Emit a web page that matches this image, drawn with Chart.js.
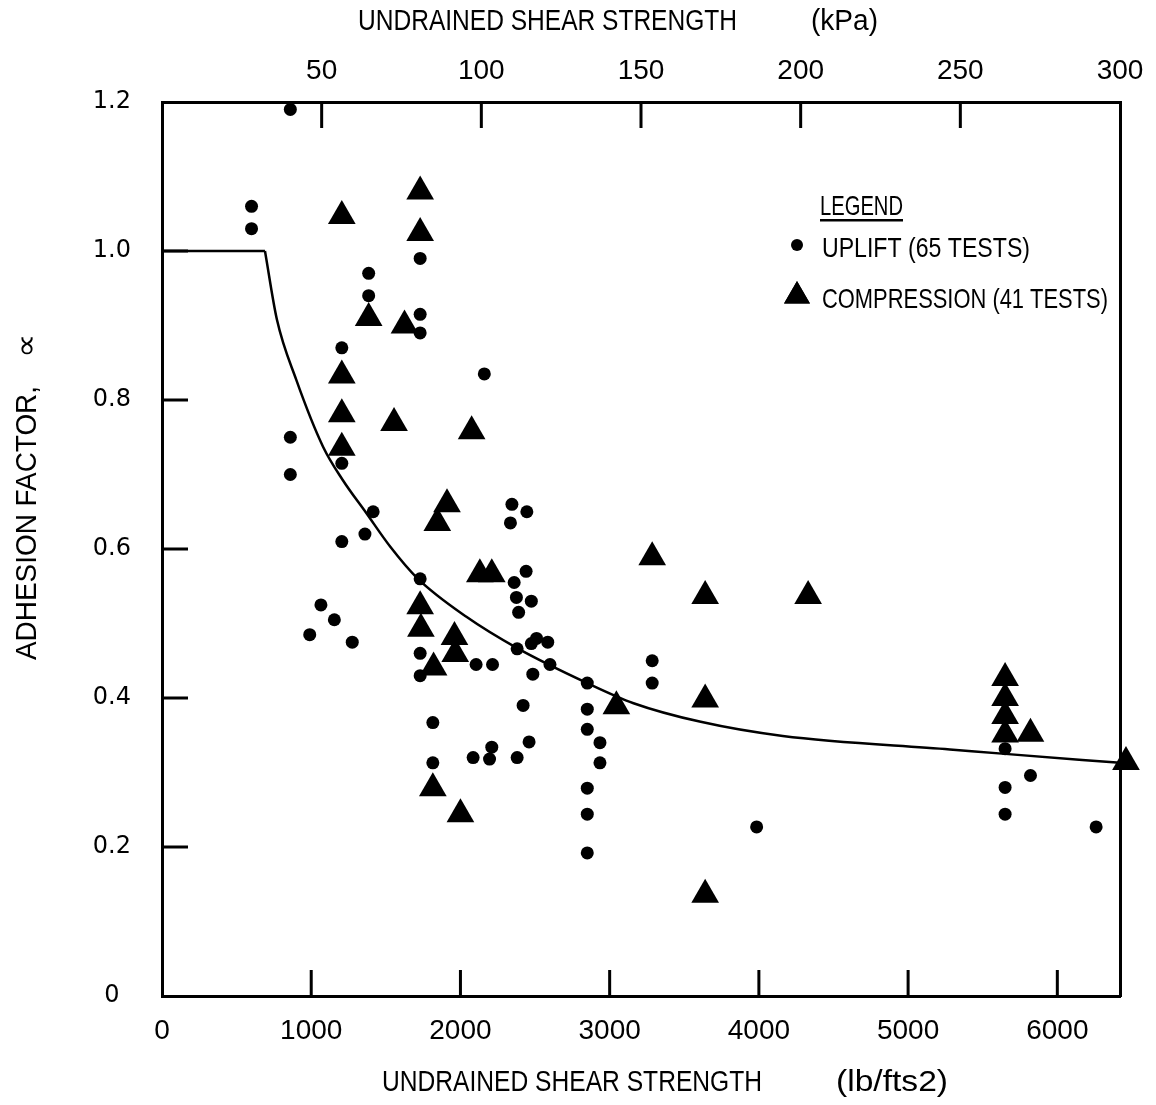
<!DOCTYPE html>
<html>
<head>
<meta charset="utf-8">
<script src="https://cdn.jsdelivr.net/npm/chart.js@4.4.1/dist/chart.umd.min.js"></script>
<style>
  html, body { margin: 0; padding: 0; background: #fff; }
  canvas { display: block; }
</style>
</head>
<body>
<canvas id="adhesionChart" width="1156" height="1105"></canvas>
<script>
// Undrained shear strength (lb/ft2) vs adhesion factor
const upliftSu = [860, 600, 600, 1730, 1385, 1385, 1730, 1730, 1205, 2160,
    860, 860, 1205, 1415, 1360, 1205, 2345, 2445, 2335, 2440,
    2360, 2375, 2475, 2390, 1730, 1065, 1155, 990, 1275, 1730,
    1730, 2105, 2215, 2510, 2475, 2585, 2380, 2600, 2485, 2850,
    3285, 3285, 2420, 2850, 2850, 2935, 2935, 1815, 1815, 2085,
    2210, 2195, 2380, 2460, 2850, 2850, 2850, 3985, 5650, 5820,
    5650, 5650, 6260];
const upliftAlpha = [1.19, 1.06, 1.03, 0.99, 0.97, 0.94, 0.915, 0.89, 0.87, 0.835,
    0.75, 0.70, 0.715, 0.65, 0.62, 0.61, 0.66, 0.65, 0.635, 0.57,
    0.555, 0.535, 0.53, 0.515, 0.56, 0.525, 0.505, 0.485, 0.475, 0.46,
    0.43, 0.445, 0.445, 0.48, 0.473, 0.475, 0.466, 0.445, 0.432, 0.42,
    0.45, 0.42, 0.39, 0.385, 0.358, 0.34, 0.313, 0.367, 0.313, 0.32,
    0.334, 0.318, 0.32, 0.341, 0.279, 0.244, 0.192, 0.227, 0.332, 0.296,
    0.28, 0.244, 0.227];

const compSu = [1205, 1730, 1730, 1385, 1625, 1205, 1205, 1555, 2075, 1205,
    1910, 1845, 2130, 2210, 3285, 1730, 1735, 1960, 1965, 1820,
    3045, 1815, 2000, 3640, 4330, 3640, 3640, 5650, 5650, 5650,
    5650, 5820, 6460];
const compAlpha = [1.047, 1.08, 1.024, 0.91, 0.90, 0.833, 0.781, 0.769, 0.758, 0.736,
    0.66, 0.635, 0.566, 0.566, 0.589, 0.523, 0.493, 0.482, 0.459, 0.441,
    0.389, 0.279, 0.244, 0.537, 0.537, 0.398, 0.136, 0.427, 0.40, 0.376,
    0.351, 0.352, 0.314];

// design curve: flat part, then the decaying branch
const plateauSu = [0, 690];
const plateauAlpha = [1.0, 1.0];
const curveSu = [690, 770, 900, 1080, 1210, 1370, 1530, 1710, 2040, 2380,
    2850, 3160, 3610, 4160, 5280, 5650, 6420];
const curveAlpha = [1.0, 0.908, 0.827, 0.737, 0.693, 0.648, 0.603, 0.561, 0.509, 0.467,
    0.420, 0.393, 0.368, 0.349, 0.331, 0.325, 0.313];

// tick values
const psfTicks = [0, 1000, 2000, 3000, 4000, 5000, 6000];
const kpaTicks = [0, 50, 100, 150, 200, 250, 300];
const alphaTicks = [0, 0.2, 0.4, 0.6, 0.8, 1.0, 1.2];

const xMaxPsf = 6420;
const kpaMax = 300;

function pairs(xs, ys) {
    return xs.map((x, i) => ({ x: x, y: ys[i] }));
}

const LABEL_FONT = '"Liberation Sans", Arial, sans-serif';
const TICK_LEN = 26;

// draw text squeezed/stretched to a given width (the original uses a narrow CAD font)
function fitText(ctx, text, x, y, w, size) {
    ctx.font = size + 'px ' + LABEL_FONT;
    const m = ctx.measureText(text).width;
    ctx.save();
    ctx.translate(x, y);
    ctx.scale(w / m, 1);
    ctx.textAlign = 'left';
    ctx.textBaseline = 'middle';
    ctx.fillText(text, 0, 0);
    ctx.restore();
}

function noPadding(s) {
    s.paddingLeft = 0;
    s.paddingRight = 0;
    s.paddingTop = 0;
    s.paddingBottom = 0;
}

const inwardTicks = {
    id: 'inwardTicks',
    afterDraw(chart) {
        const { ctx, chartArea: a, scales } = chart;
        ctx.save();
        ctx.strokeStyle = '#000';
        ctx.lineWidth = 3;
        ctx.beginPath();
        scales.y.ticks.forEach(t => {
            if (t.value <= 0 || t.value >= 1.19) return;
            const py = scales.y.getPixelForValue(t.value);
            ctx.moveTo(a.left, py);
            ctx.lineTo(a.left + TICK_LEN, py);
        });
        scales.x.ticks.forEach(t => {
            if (t.value <= 0) return;
            const px = scales.x.getPixelForValue(t.value);
            ctx.moveTo(px, a.bottom);
            ctx.lineTo(px, a.bottom - TICK_LEN);
        });
        scales.x2.ticks.forEach(t => {
            if (t.value <= 0 || t.value >= kpaMax) return;
            const px = scales.x2.getPixelForValue(t.value);
            ctx.moveTo(px, a.top);
            ctx.lineTo(px, a.top + TICK_LEN);
        });
        ctx.stroke();
        ctx.restore();
    }
};

const titlesAndLegend = {
    id: 'titlesAndLegend',
    afterDraw(chart) {
        const ctx = chart.ctx;
        ctx.save();
        ctx.fillStyle = '#000';

        // axis titles
        fitText(ctx, 'UNDRAINED SHEAR STRENGTH', 358, 22, 379, 30);
        fitText(ctx, '(kPa)', 811, 22, 67, 30);
        fitText(ctx, 'UNDRAINED SHEAR STRENGTH', 382, 1083, 380, 30);
        fitText(ctx, '(lb/fts2)', 836, 1083, 112, 30);

        ctx.save();
        ctx.translate(28, 660);
        ctx.rotate(-Math.PI / 2);
        fitText(ctx, 'ADHESION FACTOR,', 0, 0, 274, 30);
        fitText(ctx, '\u221D', 302, 0, 24, 30);
        ctx.restore();

        // legend
        fitText(ctx, 'LEGEND', 820, 207, 83, 28);
        ctx.fillRect(820, 219, 83, 2.5);
        ctx.beginPath();
        ctx.arc(797, 245, 6, 0, Math.PI * 2);
        ctx.fill();
        fitText(ctx, 'UPLIFT (65 TESTS)', 822, 249, 208, 28);
        Chart.helpers.drawPoint(ctx, { pointStyle: 'triangle', radius: 15, borderWidth: 0 }, 797, 296);
        ctx.fill();
        fitText(ctx, 'COMPRESSION (41 TESTS)', 822, 300, 286, 28);

        ctx.restore();
    }
};

const ctx = document.getElementById('adhesionChart').getContext('2d');
const adhesionChart = new Chart(ctx, {
    type: 'scatter',
    data: {
        datasets: [
            {
                label: 'Design curve (flat)',
                data: pairs(plateauSu, plateauAlpha),
                showLine: true,
                borderColor: '#000',
                borderWidth: 2.5,
                pointRadius: 0,
                tension: 0,
                clip: false
            },
            {
                label: 'Design curve',
                data: pairs(curveSu, curveAlpha),
                showLine: true,
                borderColor: '#000',
                borderWidth: 2.5,
                pointRadius: 0,
                cubicInterpolationMode: 'monotone',
                clip: false
            },
            {
                label: 'Uplift (65 tests)',
                data: pairs(upliftSu, upliftAlpha),
                pointStyle: 'circle',
                pointRadius: 6.5,
                backgroundColor: '#000',
                borderWidth: 0,
                clip: false
            },
            {
                label: 'Compression (41 tests)',
                data: pairs(compSu, compAlpha),
                pointStyle: 'triangle',
                pointRadius: 16,
                backgroundColor: '#000',
                borderWidth: 0,
                clip: false
            }
        ]
    },
    options: {
        responsive: false,
        animation: false,
        layout: { padding: { left: 0, right: 36, top: 0, bottom: 0 } },
        plugins: {
            legend: { display: false },
            tooltip: { enabled: false }
        },
        scales: {
            x: {
                type: 'linear',
                position: 'bottom',
                min: 0,
                max: xMaxPsf,
                afterBuildTicks: s => { s.ticks = psfTicks.map(v => ({ value: v })); },
                afterFit: s => { s.height = 109; noPadding(s); },
                grid: { display: false, drawTicks: false },
                border: { display: true, color: '#000', width: 3 },
                ticks: {
                    autoSkip: false,
                    maxRotation: 0,
                    padding: 18,
                    color: '#000',
                    font: { family: LABEL_FONT, size: 28 },
                    callback: v => String(v)
                }
            },
            x2: {
                type: 'linear',
                position: 'top',
                min: 0,
                max: kpaMax,
                afterBuildTicks: s => { s.ticks = kpaTicks.map(v => ({ value: v })); },
                afterFit: s => { s.height = 102; noPadding(s); },
                grid: { display: false, drawTicks: false },
                border: { display: true, color: '#000', width: 3 },
                ticks: {
                    autoSkip: false,
                    maxRotation: 0,
                    padding: 14,
                    color: '#000',
                    font: { family: LABEL_FONT, size: 28 },
                    callback: v => (v === 0 ? '' : String(v))
                }
            },
            y: {
                type: 'linear',
                position: 'left',
                min: 0,
                max: 1.2,
                afterBuildTicks: s => { s.ticks = alphaTicks.map(v => ({ value: v })); },
                afterFit: s => { s.width = 162; noPadding(s); },
                grid: { display: false, drawTicks: false },
                border: { display: true, color: '#000', width: 3 },
                ticks: {
                    crossAlign: 'center',
                    padding: 31,
                    color: '#000',
                    font: { family: '"DejaVu Sans", sans-serif', size: 24 },
                    callback: v => (v === 0 ? '0' : v.toFixed(1))
                }
            },
            y2: {
                type: 'linear',
                position: 'right',
                display: true,
                min: 0,
                max: 1.2,
                afterFit: s => { s.width = 0; noPadding(s); },
                grid: { display: false, drawTicks: false },
                border: { display: true, color: '#000', width: 3 },
                ticks: { display: false }
            }
        }
    },
    plugins: [inwardTicks, titlesAndLegend]
});
</script>
</body>
</html>
